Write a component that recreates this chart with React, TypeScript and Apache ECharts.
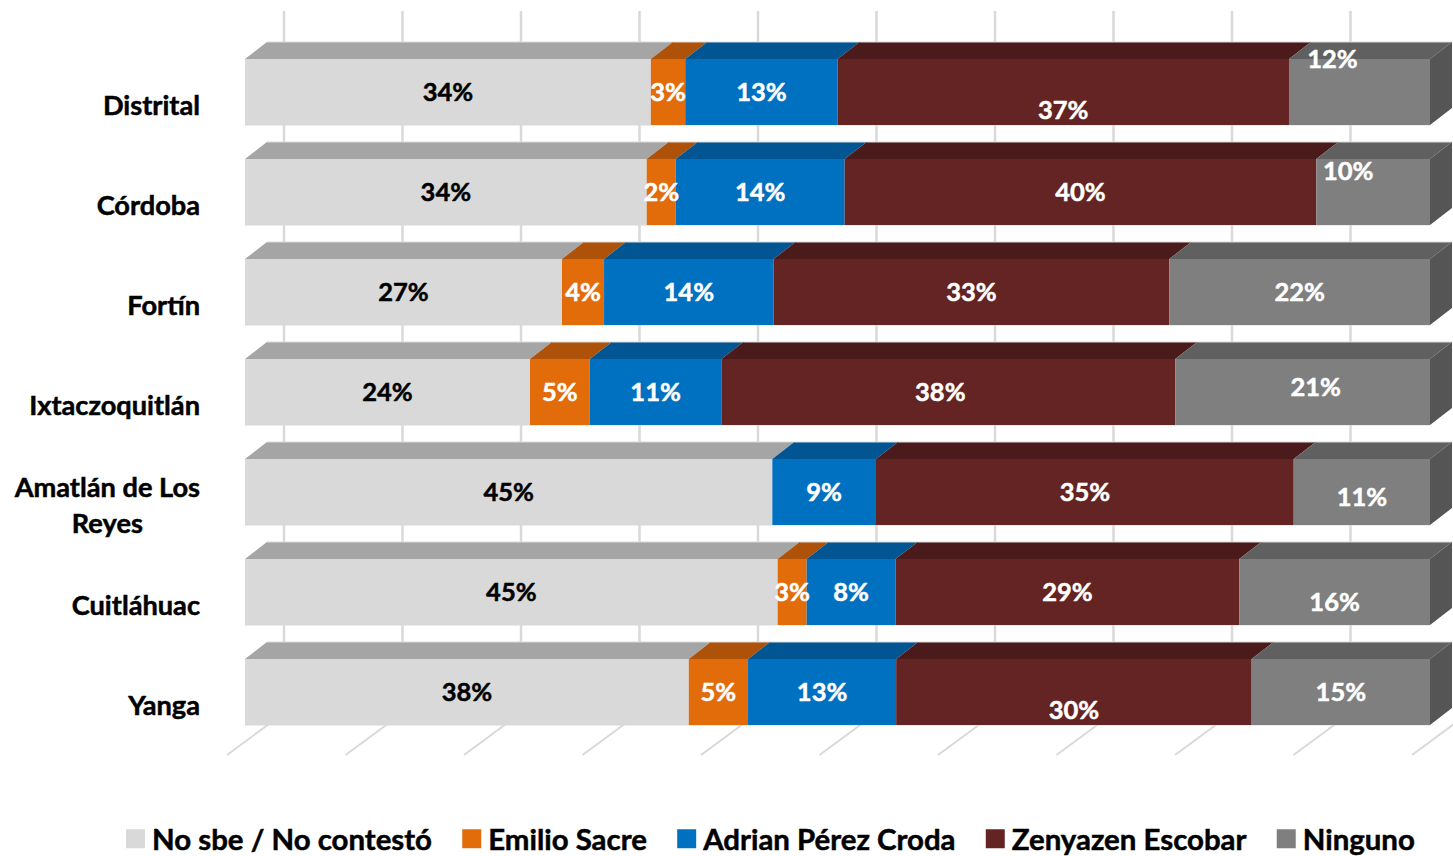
import React, { useEffect, useRef } from "react";
import * as echarts from "echarts";

const categories = ["Distrital", "Córdoba", "Fortín", "Ixtaczoquitlán", "Amatlán de Los\nReyes", "Cuitláhuac", "Yanga"];
const seriesNames = ["No sbe / No contestó", "Emilio Sacre", "Adrian Pérez Croda", "Zenyazen Escobar", "Ninguno"];
const noContesto = [34.25, 33.9, 26.75, 24.05, 44.5, 44.95, 37.45];
const emilio = [2.9, 2.45, 3.55, 5.05, null, 2.45, 5.0];
const adrian = [12.85, 14.25, 14.3, 11.1, 8.75, 7.5, 12.5];
const zenyazen = [38.1, 39.8, 33.4, 38.3, 35.25, 29.0, 30.0];
const ninguno = [11.9, 9.6, 22.0, 21.5, 11.5, 16.1, 15.05];
const noContestoLabels = ["34%", "34%", "27%", "24%", "45%", "45%", "38%"];
const emilioLabels = ["3%", "2%", "4%", "5%", "", "3%", "5%"];
const adrianLabels = ["13%", "14%", "14%", "11%", "9%", "8%", "13%"];
const zenyazenLabels = ["37%", "40%", "33%", "38%", "35%", "29%", "30%"];
const ningunoLabels = ["12%", "10%", "22%", "21%", "11%", "16%", "15%"];
const axisTicks = [0, 10, 20, 30, 40, 50, 60, 70, 80, 90, 100];

const allValues = [noContesto, emilio, adrian, zenyazen, ninguno];
const allLabels = [noContestoLabels, emilioLabels, adrianLabels, zenyazenLabels, ningunoLabels];

const frontColors = ["#D9D9D9", "#E36C0A", "#0070C0", "#632423", "#7F7F7F"];
const topColors = ["#A5A5A5", "#AD5208", "#005592", "#4B1B1B", "#606060"];
const sideColor = "#555555";
const labelColors = ["#000000", "#FFFFFF", "#FFFFFF", "#FFFFFF", "#FFFFFF"];
const gridColor = "#D9D9D9";
const FONT = "Lato";

// label nudges, [series, row, dx, dy]
const labelShifts: number[][] = [
  [3, 0, 0, 18],
  [4, 0, -27, -33],
  [4, 1, -25, -21],
  [3, 3, -8, 0],
  [4, 3, 13, -5],
  [4, 4, 0, 5],
  [4, 5, 0, 10],
  [3, 6, 0, 18],
];

const BAR = 66;
const DX = 22;
const DY = 17;

function App() {
  const ref = useRef<HTMLDivElement>(null);
  useEffect(() => {
    document.body.style.margin = "0";
    document.body.style.overflow = "hidden";
    const chart = echarts.init(ref.current!, null, { renderer: "svg" });

    const segments: number[][] = [];
    categories.forEach((_, row) => {
      let acc = 0;
      allValues.forEach((vals, s) => {
        const v = vals[row];
        if (v == null) return;
        segments.push([acc, acc + v, row, s]);
        acc += v;
      });
    });

    const barSeries = allValues.map((vals, s) => ({
      name: seriesNames[s],
      type: "bar",
      stack: "total",
      barWidth: BAR,
      z: 4,
      itemStyle: { color: frontColors[s] },
      data: vals.map((v, row) => {
        const shift = labelShifts.find((l) => l[0] === s && l[1] === row);
        return {
          value: v,
          label: {
            show: v != null,
            position: "inside",
            formatter: allLabels[s][row],
            color: labelColors[s],
            fontFamily: FONT,
            fontWeight: "bold",
            fontSize: 25.5,
            textBorderColor: labelColors[s],
            textBorderWidth: 0.5,
            offset: shift ? [shift[2], shift[3] - 1] : [0, -1],
          },
        };
      }),
    }));

    const option: any = {
      animation: false,
      backgroundColor: "#FFFFFF",
      grid: { left: 245, top: 42, width: 1185, height: 700, containLabel: false },
      xAxis: {
        type: "value",
        min: 0,
        max: 100,
        interval: 10,
        axisLine: { show: false },
        axisTick: { show: false },
        axisLabel: { show: false },
        splitLine: { show: false },
      },
      yAxis: {
        type: "category",
        inverse: true,
        data: categories,
        axisLine: { show: false },
        axisTick: { show: false },
        axisLabel: {
          margin: 45,
          align: "right",
          padding: [24, 0, 0, 0],
          lineHeight: 36,
          formatter: (v: string) =>
            v.split("\n").map((t) => `{a|${t}}`).join("\n"),
          rich: {
            a: {
              align: "center",
              fontFamily: FONT,
              fontWeight: "bold",
              fontSize: 27.2,
              lineHeight: 36,
              color: "#000000",
              textBorderColor: "#000000",
              textBorderWidth: 0.5,
            },
          },
        },
      },
      legend: {
        left: 126,
        top: 824,
        padding: 0,
        itemGap: 30,
        itemWidth: 19,
        itemHeight: 19,
        icon: "rect",
        data: seriesNames,
        textStyle: {
          fontFamily: FONT,
          fontWeight: "bold",
          fontSize: 29.4,
          lineHeight: 23,
          color: "#000000",
          textBorderColor: "#000000",
          textBorderWidth: 0.5,
          padding: [0, 0, 0, 2],
        },
      },
      series: [
        {
          type: "custom",
          z: 1,
          silent: true,
          data: axisTicks.map((t) => [t, 0]),
          encode: { x: 0, y: 1 },
          renderItem: (_: any, api: any) => {
            const x = api.coord([api.value(0), 0])[0];
            return {
              type: "group",
              children: [
                { type: "line", shape: { x1: x + 39, y1: 11, x2: x + 39, y2: 713 }, style: { stroke: gridColor, lineWidth: 2.5 } },
                { type: "line", shape: { x1: x - 18, y1: 755, x2: x + 39, y2: 713 }, style: { stroke: gridColor, lineWidth: 2 } },
              ],
            };
          },
        },
        {
          type: "custom",
          z: 2,
          silent: true,
          data: segments,
          encode: { x: [0, 1], y: 2 },
          renderItem: (_: any, api: any) => {
            const row = api.value(2);
            const s = api.value(3);
            const [x0, cy] = api.coord([api.value(0), row]);
            const [x1] = api.coord([api.value(1), row]);
            const yTop = cy - BAR / 2;
            const children: any[] = [
              {
                type: "polygon",
                shape: { points: [[x0, yTop], [x1, yTop], [x1 + DX, yTop - DY], [x0 + DX, yTop - DY]] },
                style: { fill: topColors[s] },
              },
              {
                type: "line",
                shape: { x1: x0 + DX, y1: yTop - DY, x2: x1 + DX, y2: yTop - DY },
                style: { stroke: gridColor, lineWidth: 1 },
              },
              {
                type: "line",
                shape: { x1: x0, y1: yTop + BAR, x2: x1, y2: yTop + BAR },
                style: { stroke: gridColor, lineWidth: 1 },
              },
            ];
            if (s === allValues.length - 1) {
              children.push({
                type: "polygon",
                shape: { points: [[x1, yTop], [x1 + DX, yTop - DY], [x1 + DX, yTop - DY + BAR], [x1, yTop + BAR]] },
                style: { fill: sideColor },
              });
            }
            return { type: "group", children };
          },
        },
        ...barSeries,
      ],
    };
    chart.setOption(option);
    return () => chart.dispose();
  }, []);
  return <div ref={ref} style={{ position: "fixed", left: 0, top: 0, width: 1453, height: 856 }} />;
}

export default App;
